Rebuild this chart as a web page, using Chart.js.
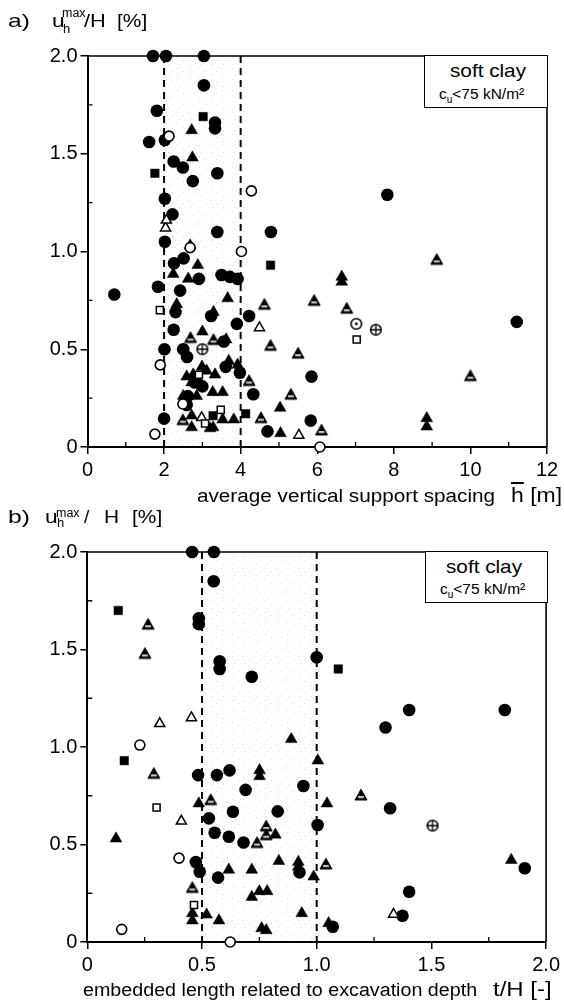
<!DOCTYPE html>
<html>
<head>
<meta charset="utf-8">
<script src="https://cdn.jsdelivr.net/npm/chart.js@4"></script>
<style>
body { margin: 0; background: #fff; }
#wrap { position: relative; width: 564px; height: 1000px; overflow: hidden; font-family: "Liberation Sans", Arial, sans-serif; color: #000; }
.cv { position: absolute; left: 0; }
.t { position: absolute; white-space: nowrap; line-height: 1; transform-origin: 0 0; }
.box { position: absolute; border: 1.5px solid #000; background: #fff; box-sizing: border-box; }
.ov { text-decoration: overline; }
</style>
</head>
<body>
<div id="wrap">
  <canvas id="chartA" class="cv" width="564" height="500" style="top:0"></canvas>
  <canvas id="chartB" class="cv" width="564" height="500" style="top:500px"></canvas>

  <!-- chart a labels -->
  <div class="t" style="left:8px;top:11px;font-size:19px;transform:scaleX(1.3)">a)</div>
  <div class="t" style="left:52px;top:11px;font-size:19px;transform:scaleX(1.2)">u</div>
  <div class="t" style="left:62px;top:7px;font-size:12.5px">max</div>
  <div class="t" style="left:63px;top:22px;font-size:13px">h</div>
  <div class="t" style="left:84px;top:11px;font-size:19px;transform:scaleX(1.15)">/H</div>
  <div class="t" style="left:117px;top:11px;font-size:19px;transform:scaleX(1.1)">[%]</div>
  <div class="box" style="left:424px;top:55px;width:124px;height:53px"></div>
  <div class="t" style="left:450px;top:62px;font-size:18.5px;transform:scaleX(1.12)">soft clay</div>
  <div class="t" style="left:439px;top:86px;font-size:15.5px">c<sub style="font-size:10px">u</sub>&lt;75 kN/m²</div>
  <div class="t" style="left:197px;top:487px;font-size:18px;transform:scaleX(1.15)">average vertical support spacing</div>
  <div class="t" style="left:511px;top:485px;font-size:20px;transform:scaleX(1.15)"><span class="ov">h</span> [m]</div>

  <!-- chart b labels -->
  <div class="t" style="left:8px;top:507px;font-size:19px;transform:scaleX(1.3)">b)</div>
  <div class="t" style="left:45px;top:507px;font-size:19px;transform:scaleX(1.2)">u</div>
  <div class="t" style="left:56px;top:507px;font-size:12.5px">max</div>
  <div class="t" style="left:57px;top:516px;font-size:13px">h</div>
  <div class="t" style="left:84px;top:507px;font-size:19px">/</div>
  <div class="t" style="left:104px;top:507px;font-size:19px;transform:scaleX(1.1)">H</div>
  <div class="t" style="left:132px;top:507px;font-size:19px;transform:scaleX(1.1)">[%]</div>
  <div class="box" style="left:425px;top:551px;width:123px;height:52px"></div>
  <div class="t" style="left:446px;top:558px;font-size:18.5px;transform:scaleX(1.12)">soft clay</div>
  <div class="t" style="left:440px;top:581px;font-size:15.5px">c<sub style="font-size:10px">u</sub>&lt;75 kN/m²</div>
  <div class="t" style="left:83px;top:981px;font-size:18px;transform:scaleX(1.094)">embedded length related to excavation depth</div>
  <div class="t" style="left:493px;top:979px;font-size:20px;transform:scaleX(1.2)">t/H [-]</div>
</div>

<script>
// ---- data: chart a (average vertical support spacing [m] vs u_h,max/H [%]) ----
const aFilledCircle = [
  [1.71, 2.0], [2.05, 2.0], [3.04, 2.0], [3.04, 1.85], [1.81, 1.72], [3.33, 1.66], [3.33, 1.63],
  [1.61, 1.56], [2.02, 1.57], [2.25, 1.46], [2.49, 1.43], [3.39, 1.40], [2.75, 1.36], [2.02, 1.27],
  [2.22, 1.19], [3.39, 1.10], [4.79, 1.10], [2.02, 1.05], [7.83, 1.29], [0.70, 0.78], [2.26, 0.94],
  [2.51, 0.965], [1.84, 0.82], [2.42, 0.80], [2.91, 0.86], [3.50, 0.88], [3.72, 0.87], [3.92, 0.86],
  [2.30, 0.69], [3.23, 0.67], [4.22, 0.67], [3.90, 0.63], [2.25, 0.60], [2.01, 0.50], [2.50, 0.50],
  [2.60, 0.46], [3.56, 0.54], [3.61, 0.41], [3.98, 0.38], [3.00, 0.31], [2.80, 0.33], [4.33, 0.27],
  [2.62, 0.26], [2.59, 0.215], [2.00, 0.145], [4.70, 0.08], [5.85, 0.36], [5.83, 0.135], [11.21, 0.64]
];
const aFilledTriangle = [
  [2.72, 1.62], [2.74, 1.48], [2.68, 1.03], [2.24, 0.885], [2.63, 0.86], [2.88, 0.93], [3.66, 0.76],
  [2.33, 0.73], [3.29, 0.69], [3.00, 0.59], [3.62, 0.55], [3.92, 0.42], [3.69, 0.44], [2.59, 0.36],
  [2.76, 0.37], [2.99, 0.41], [3.11, 0.39], [3.33, 0.37], [2.94, 0.33], [2.72, 0.33], [2.85, 0.26],
  [3.27, 0.28], [3.53, 0.28], [2.50, 0.26], [2.72, 0.10], [2.72, 0.16], [3.28, 0.10], [3.20, 0.095],
  [3.53, 0.14], [3.82, 0.14], [5.03, 0.20], [5.04, 0.07], [6.64, 0.87], [6.64, 0.845], [8.86, 0.147],
  [8.86, 0.104]
];
const aHatchedTriangle = [
  [2.69, 0.56], [3.29, 0.55], [4.78, 0.52], [4.62, 0.73], [4.22, 0.34], [4.53, 0.15], [2.49, 0.14],
  [5.92, 0.75], [6.77, 0.71], [9.12, 0.96], [5.50, 0.48], [5.31, 0.27], [6.11, 0.087], [10.0, 0.365]
];
const aOpenTriangle = [[2.04, 1.12], [2.06, 1.16], [4.49, 0.61], [2.98, 0.15], [5.52, 0.06]];
const aFilledSquare = [[3.02, 1.69], [1.76, 1.40], [4.78, 0.93], [4.13, 0.17], [3.28, 0.16]];
const aOpenSquare = [[1.89, 0.70], [3.48, 0.19], [2.91, 0.37], [3.07, 0.12], [7.03, 0.55]];
const aOpenCircle = [[2.13, 1.59], [4.28, 1.31], [4.02, 1.0], [1.90, 0.42], [1.76, 0.066], [2.49, 0.22], [2.68, 1.02], [6.07, 0.0]];
const aCrossCircle = [[3.0, 0.50], [7.53, 0.60]];
const aDotCircle = [[7.02, 0.63]];

// ---- data: chart b (embedded length t/H [-] vs u_h,max/H [%]) ----
const bFilledCircle = [
  [0.457, 2.0], [0.552, 2.0], [0.551, 1.85], [0.486, 1.66], [0.486, 1.63], [0.577, 1.44], [0.577, 1.40],
  [0.717, 1.36], [1.0, 1.46], [1.403, 1.19], [1.82, 1.19], [1.30, 1.10], [0.483, 0.856], [0.565, 0.856],
  [0.62, 0.88], [0.69, 0.78], [0.83, 0.67], [0.635, 0.668], [0.53, 0.634], [0.555, 0.56], [0.617, 0.54],
  [0.681, 0.51], [0.473, 0.41], [0.49, 0.36], [0.57, 0.33], [0.942, 0.80], [1.32, 0.686], [1.004, 0.60],
  [1.907, 0.378], [0.925, 0.357], [1.403, 0.258], [1.374, 0.135], [1.07, 0.078]
];
const bFilledTriangle = [
  [0.125, 0.53], [0.889, 1.04], [1.005, 0.93], [0.751, 0.88], [0.751, 0.85], [1.045, 0.71], [0.486, 0.71],
  [0.617, 0.37], [0.717, 0.37], [0.835, 0.415], [0.92, 0.41], [0.92, 0.386], [0.987, 0.335], [0.717, 0.23],
  [0.75, 0.26], [0.784, 0.26], [0.935, 0.147], [0.52, 0.14], [0.574, 0.11], [0.76, 0.07], [0.78, 0.06],
  [1.052, 0.096], [0.458, 0.147], [0.458, 0.11], [1.848, 0.42], [0.82, 0.55]
];
const bHatchedTriangle = [
  [0.265, 1.63], [0.251, 1.48], [0.29, 0.865], [0.458, 0.28], [0.538, 0.73], [0.78, 0.595], [0.74, 0.51],
  [0.78, 0.55], [1.193, 0.754], [1.04, 0.40]
];
const bOpenTriangle = [[0.316, 1.12], [0.454, 1.15], [0.41, 0.62], [1.335, 0.142]];
const bFilledSquare = [[0.135, 1.70], [1.094, 1.40], [0.161, 0.93]];
const bOpenSquare = [[0.302, 0.69], [0.465, 0.19]];
const bOpenCircle = [[0.229, 1.01], [0.40, 0.43], [0.15, 0.065], [0.623, 0.0]];
const bCrossCircle = [[1.505, 0.597]];

// y tick labels shared by both charts
const yTickLabels = ['0', '0.5', '1.0', '1.5', '2.0'];

// little canvases for the symbols chart.js has no style for
function marker(kind) {
  const c = document.createElement('canvas');
  c.width = 16; c.height = 16;
  const g = c.getContext('2d');
  g.strokeStyle = '#000';
  if (kind === 'hatch') {
    g.beginPath(); g.moveTo(8, 2.3); g.lineTo(14, 13); g.lineTo(2, 13); g.closePath();
    g.fillStyle = '#000'; g.fill();
    g.lineWidth = 1; g.stroke();
    g.save(); g.clip();
    g.fillStyle = '#fff';
    g.fillRect(5.3, 9, 5.4, 2.2);
    g.fillStyle = '#000';
    g.fillRect(6.5, 9.6, 1, 1); g.fillRect(8.6, 9.6, 1, 1);
    g.restore();
  } else {
    g.beginPath(); g.arc(8, 8, 5.3, 0, Math.PI * 2);
    g.fillStyle = '#fff'; g.fill();
    g.lineWidth = 1.6; g.stroke();
    if (kind === 'cross') {
      g.beginPath(); g.moveTo(2.7, 8); g.lineTo(13.3, 8); g.moveTo(8, 2.7); g.lineTo(8, 13.3);
      g.lineWidth = 1.3; g.stroke();
    } else {
      g.beginPath(); g.arc(8, 8, 1.4, 0, Math.PI * 2); g.fillStyle = '#000'; g.fill();
    }
  }
  return c;
}
const hatchImg = marker('hatch');
const crossImg = marker('cross');
const dotImg = marker('dot');

// faint stipple for the shaded band
const stip = document.createElement('canvas');
stip.width = 11; stip.height = 11;
const sg = stip.getContext('2d');
sg.fillStyle = 'rgba(0,0,0,0.14)';
sg.fillRect(1, 2, 1, 1); sg.fillRect(7, 5, 1, 1); sg.fillRect(3, 9, 1, 1);

const styles = {
  filledCircle: { pointStyle: 'circle', pointRadius: 6.3, pointBackgroundColor: '#000', pointBorderColor: '#000', pointBorderWidth: 0 },
  filledTriangle: { pointStyle: 'triangle', pointRadius: 6.8, pointBackgroundColor: '#000', pointBorderColor: '#000', pointBorderWidth: 0.5 },
  filledSquare: { pointStyle: 'rect', pointRadius: 6, pointBackgroundColor: '#000', pointBorderColor: '#000', pointBorderWidth: 0.5 },
  openCircle: { pointStyle: 'circle', pointRadius: 5, pointBackgroundColor: '#fff', pointBorderColor: '#000', pointBorderWidth: 1.6 },
  openTriangle: { pointStyle: 'triangle', pointRadius: 5.8, pointBackgroundColor: '#fff', pointBorderColor: '#000', pointBorderWidth: 1.5 },
  openSquare: { pointStyle: 'rect', pointRadius: 5, pointBackgroundColor: '#fff', pointBorderColor: '#000', pointBorderWidth: 1.5 },
  hatched: { pointStyle: hatchImg },
  crossCircle: { pointStyle: crossImg },
  dotCircle: { pointStyle: dotImg }
};

function ds(data, style) {
  return Object.assign({ data: data.map(p => ({ x: p[0], y: p[1] })), showLine: false, clip: false }, styles[style]);
}

const frame = {
  id: 'frame',
  beforeDatasetsDraw(chart, args, opts) {
    const { ctx, chartArea: a, scales: { x, y } } = chart;
    const x1 = x.getPixelForValue(opts.band[0]);
    const x2 = x.getPixelForValue(opts.band[1]);
    ctx.save();
    ctx.fillStyle = ctx.createPattern(stip, 'repeat');
    ctx.fillRect(x1, a.top, x2 - x1, a.bottom - a.top);
    // top and right edges of the box
    ctx.strokeStyle = '#000';
    ctx.lineWidth = 1.6;
    ctx.beginPath();
    ctx.moveTo(a.left, a.top); ctx.lineTo(a.right, a.top); ctx.lineTo(a.right, a.bottom);
    ctx.stroke();
    // inward minor ticks
    ctx.lineWidth = 1.3;
    ctx.beginPath();
    for (let v = x.min; v <= x.max + 1e-9; v += opts.xMinor) {
      if (isMult(v, opts.xMajor)) continue;
      const px = x.getPixelForValue(v);
      ctx.moveTo(px, a.bottom); ctx.lineTo(px, a.bottom - 5);
    }
    for (let v = 0.25; v < 2; v += 0.5) {
      const py = y.getPixelForValue(v);
      ctx.moveTo(a.left, py); ctx.lineTo(a.left + 5, py);
    }
    ctx.stroke();
    // dashed limits
    ctx.lineWidth = 2;
    ctx.setLineDash([7, 5]);
    [x1, x2].forEach(px => {
      ctx.beginPath(); ctx.moveTo(px, a.top); ctx.lineTo(px, a.bottom); ctx.stroke();
    });
    ctx.restore();
  }
};

function isMult(v, m) { return Math.abs(v / m - Math.round(v / m)) < 1e-6; }

function makeChart(id, datasets, xMax, xMinor, xMajor, xLabel, pad, yWidth, xHeight) {
  new Chart(document.getElementById(id), {
    type: 'scatter',
    data: { datasets: datasets },
    options: {
      responsive: false,
      animation: false,
      events: [],
      layout: { padding: pad },
      plugins: {
        legend: { display: false },
        tooltip: { enabled: false },
        frame: { band: xMax === 12 ? [2, 4] : [0.5, 1.0], xMinor: xMinor, xMajor: xMajor }
      },
      scales: {
        x: {
          type: 'linear', min: 0, max: xMax,
          afterFit: s => { s.height = xHeight; },
          border: { display: true, color: '#000', width: 2 },
          grid: {
            drawOnChartArea: false, tickLength: 7, lineWidth: 1.5,
            color: c => (c.tick && isMult(c.tick.value, xMajor)) ? '#000' : 'rgba(0,0,0,0)'
          },
          ticks: {
            stepSize: xMinor, autoSkip: false, maxRotation: 0, padding: 4,
            color: '#000', font: { family: 'Liberation Sans', size: 20 },
            callback: xLabel
          }
        },
        y: {
          type: 'linear', min: 0, max: 2,
          afterFit: s => { s.width = yWidth; },
          border: { display: true, color: '#000', width: 2 },
          grid: {
            drawOnChartArea: false, tickLength: 7, lineWidth: 1.5,
            color: c => (c.tick && isMult(c.tick.value, 0.5)) ? '#000' : 'rgba(0,0,0,0)'
          },
          ticks: {
            stepSize: 0.25, autoSkip: false, padding: 3,
            color: '#000', font: { family: 'Liberation Sans', size: 20 },
            callback: v => isMult(v, 0.5) ? yTickLabels[Math.round(v / 0.5)] : ''
          }
        }
      }
    },
    plugins: [frame]
  });
}

makeChart('chartA', [
  ds(aCrossCircle, 'crossCircle'), ds(aDotCircle, 'dotCircle'),
  ds(aOpenCircle, 'openCircle'), ds(aOpenSquare, 'openSquare'), ds(aOpenTriangle, 'openTriangle'),
  ds(aFilledCircle, 'filledCircle'), ds(aFilledSquare, 'filledSquare'),
  ds(aHatchedTriangle, 'hatched'), ds(aFilledTriangle, 'filledTriangle')
], 12, 1, 2, v => isMult(v, 2) ? String(v) : '', { top: 56, right: 17, bottom: 0, left: 0 }, 87.5, 53);

makeChart('chartB', [
  ds(bCrossCircle, 'crossCircle'),
  ds(bOpenCircle, 'openCircle'), ds(bOpenSquare, 'openSquare'), ds(bOpenTriangle, 'openTriangle'),
  ds(bFilledCircle, 'filledCircle'), ds(bFilledSquare, 'filledSquare'),
  ds(bHatchedTriangle, 'hatched'), ds(bFilledTriangle, 'filledTriangle')
], 2, 0.25, 0.5, v => isMult(v, 0.5) ? (v === 0 ? '0' : v.toFixed(1)) : '', { top: 52, right: 16.3, bottom: 0, left: 0 }, 87.3, 58);
</script>
</body>
</html>
